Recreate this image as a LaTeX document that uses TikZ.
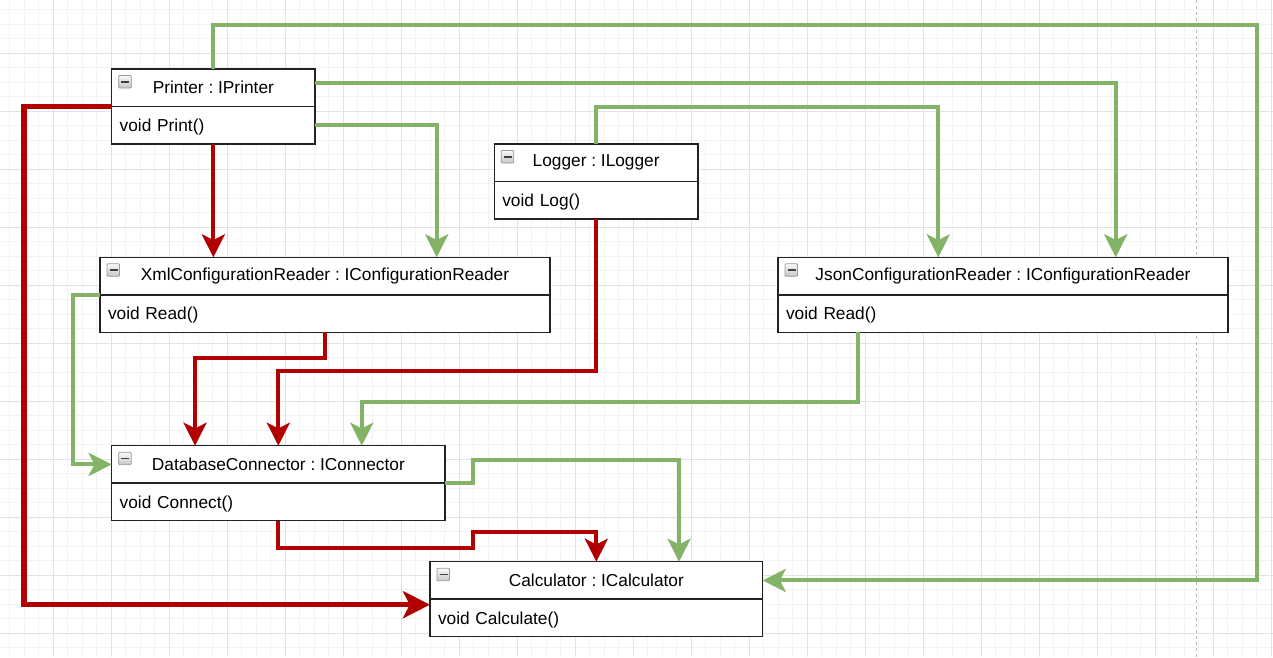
\documentclass[tikz,border=0pt]{standalone}
\usepackage{fontspec}
\setmainfont{Liberation Sans}
\usetikzlibrary{arrows.meta,calc}
\definecolor{cred}{HTML}{B20000}
\definecolor{cgreen}{HTML}{82B366}
\definecolor{gridminor}{HTML}{F3F3F3}
\definecolor{gridmajor}{HTML}{E2E2E2}
\definecolor{boxline}{HTML}{222222}
\tikzset{
  hdr/.style={draw=boxline, fill=white, line width=1.5pt, minimum height=37.5pt,
    inner sep=0pt, outer sep=0pt, anchor=north west, font=\fontsize{17.3}{20}\selectfont},
  bdy/.style={draw=boxline, fill=white, line width=1.5pt, minimum height=37.5pt,
    inner xsep=8pt, inner ysep=0pt, outer sep=0pt, align=left, anchor=north west,
    text depth=0pt, font=\fontsize{17.3}{20}\selectfont},
  iconbox/.style={draw=gray!80, top color=gray!5, bottom color=gray!45, line width=0.8pt, rounded corners=1pt},
  iconminus/.style={draw=black!75, line width=1.6pt},
  redarr/.style={draw=cred, line width=4pt, -{Stealth[length=23pt,width=23pt,inset=5.75pt]}},
  bigredarr/.style={draw=cred, line width=5.5pt, -{Stealth[length=27pt,width=27pt,inset=6.75pt]}},
  greenarr/.style={draw=cgreen, line width=4pt, -{Stealth[length=23pt,width=23pt,inset=5.75pt]}},
}
\newcommand\umlclass[6]{%
  \pgfmathsetmacro\umltw{#4-16}%
  \node[hdr, minimum width=#4pt] (#1) at (#2,#3) {#5};
  \node[bdy, text width=\umltw pt] (#1b) at (#1.south west) {#6};
  \draw[iconbox] ($(#1.north west)+(7,6.5)$) rectangle ++(12.5,12.5);
  \draw[iconminus] ($(#1.north west)+(9.5,12.75)$) -- ++(8,0);
}
\frenchspacing
\begin{document}
\begin{tikzpicture}[x=1pt,y=-1pt]
\useasboundingbox (0,0) rectangle (1273,657);
\fill[white] (0,0) rectangle (1273,657);
% grid
\foreach \i in {0,...,88} {
  \pgfmathsetmacro\xx{-4.7+14.5*\i}
  \draw[gridminor, line width=1pt] (\xx,0) -- (\xx,657);
}
\foreach \i in {0,...,46} {
  \pgfmathsetmacro\yy{-4.7+14.5*\i}
  \draw[gridminor, line width=1pt] (0,\yy) -- (1273,\yy);
}
\foreach \i in {0,...,22} {
  \pgfmathsetmacro\xx{-4.7+58*\i}
  \draw[gridmajor, line width=1pt] (\xx,0) -- (\xx,657);
}
\foreach \i in {0,...,11} {
  \pgfmathsetmacro\yy{-4.7+58*\i}
  \draw[gridmajor, line width=1pt] (0,\yy) -- (1273,\yy);
}
\draw[gray!55, line width=0.8pt, dash pattern=on 3pt off 3pt] (1196,0) -- (1196,657);

% classes
\umlclass{P}{111.7}{69}{203.3}{Printer : IPrinter}{void Print()}
\umlclass{L}{494.3}{144}{203.7}{Logger : ILogger}{void Log()}
\umlclass{X}{100}{257.3}{450}{XmlConfigurationReader : IConfigurationReader}{void Read()}
\umlclass{J}{778}{257.3}{450}{JsonConfigurationReader : IConfigurationReader}{void Read()}
\umlclass{D}{111.7}{445.7}{333.3}{DatabaseConnector : IConnector}{void Connect()}
\umlclass{C}{430}{561.7}{332.7}{Calculator : ICalculator}{void Calculate()}

% red connectors
\draw[bigredarr] (Pb.north west) -- ++(-87.7,0) |- ($(Cb.north west)+(0,5.5)$);
\draw[redarr] (Pb.south) -- (Pb.south |- X.north);
\draw[redarr] (Xb.south) -- ++(0,25.7) -| ($(D.north)+(-83.3,0)$);
\draw[redarr] (Lb.south) -- ++(0,152.4) -| (D.north);
\draw[redarr] (Db.south) -- ++(0,27.6) -- ++(195,0) -- ++(0,-16) -| (C.north);

% green connectors
\draw[greenarr] (P.north) -- ++(0,-43.7) -| ($(C.east)+(494.3,0)$) -- (C.east);
\draw[greenarr] ($(P.north east)+(0,13.7)$) -| ($(J.north)+(112.7,0)$);
\draw[greenarr] (Pb.east) -| ($(X.north)+(111.7,0)$);
\draw[greenarr] (L.north) -- ++(0,-37.3) -| ($(J.north)+(-64.7,0)$);
\draw[greenarr] (Xb.north west) -- ++(-27.3,0) |- (D.west);
\draw[greenarr] ($(Jb.south)+(-144.7,0)$) -- ++(0,69.7) -| ($(D.north)+(83.4,0)$);
\draw[greenarr] (Db.north east) -- ++(28.3,0) -- ++(0,-23) -| ($(C.north)+(82.7,0)$);
\end{tikzpicture}
\end{document}
